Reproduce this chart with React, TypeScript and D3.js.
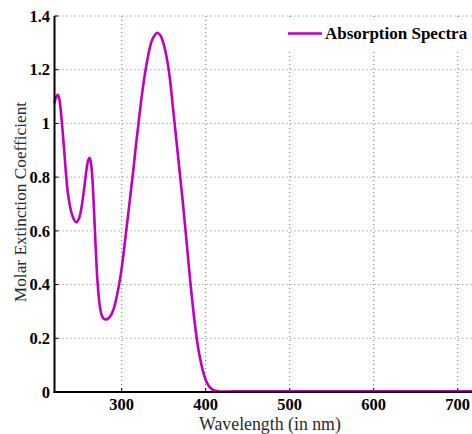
import React from "react";
import * as d3 from "d3";

const wavelengths = [
  220, 222, 224, 226, 228, 230, 232, 234, 236, 238, 240, 243, 246, 249, 252, 255, 258, 260, 261.5, 263,
  265, 267, 269, 271, 273, 275, 277, 279, 282, 286, 290, 293, 296, 299, 302, 305, 308, 311, 314, 317,
  320, 323, 326, 329, 332, 335, 338, 341, 343, 346, 349, 352, 355, 358, 361, 364, 367, 370, 373, 376,
  379, 382, 385, 388, 391, 394, 397, 400, 403, 406, 410, 415, 420, 450, 500, 550, 600, 650, 700, 720,
];
const absorbance = [
  1.075, 1.1, 1.107, 1.085, 1.03, 0.96, 0.88, 0.8, 0.74, 0.7, 0.67, 0.643, 0.632, 0.645, 0.685, 0.75,
  0.825, 0.862, 0.872, 0.86, 0.8, 0.68, 0.54, 0.42, 0.345, 0.3, 0.28, 0.272, 0.27, 0.28, 0.305, 0.34,
  0.385, 0.44, 0.51, 0.59, 0.67, 0.75, 0.83, 0.92, 1.0, 1.08, 1.15, 1.21, 1.26, 1.3, 1.322, 1.335, 1.337,
  1.328, 1.305, 1.27, 1.22, 1.15, 1.06, 0.97, 0.88, 0.79, 0.7, 0.6, 0.5, 0.4, 0.31, 0.23, 0.165, 0.115,
  0.075, 0.045, 0.026, 0.014, 0.006, 0.003, 0.002, 0.003, 0.003, 0.003, 0.003, 0.003, 0.003, 0.003,
];
const xTicks = [300, 400, 500, 600, 700];
const yTicks = [0, 0.2, 0.4, 0.6, 0.8, 1, 1.2, 1.4];
const seriesName = "Absorption Spectra";
const xLabel = "Wavelength (in nm)";
const yLabel = "Molar Extinction Coefficient";

export default function App() {
  const W = 472;
  const H = 434;
  const x = d3.scaleLinear().domain([220, 720]).range([54.5, 474.5]);
  const y = d3.scaleLinear().domain([0, 1.4]).range([392, 16]);
  const data = wavelengths.map((w, i) => [w, absorbance[i]] as [number, number]);
  const line = d3
    .line<[number, number]>()
    .x((d) => x(d[0]))
    .y((d) => y(d[1]))
    .curve(d3.curveCatmullRom.alpha(0.5));
  const serif = "'Liberation Serif', 'Times New Roman', serif";
  const grid = "#777";
  return (
    <svg
      width={W}
      height={H}
      style={{ position: "absolute", left: 0, top: 0, background: "#fff" }}
    >
      <rect x={0} y={0} width={W} height={H} fill="#fff" />
      {/* grid */}
      {yTicks.slice(1).map((t) => (
        <line
          key={"gy" + t}
          x1={x(220)}
          x2={W}
          y1={y(t)}
          y2={y(t)}
          stroke={grid}
          strokeWidth={1}
          strokeDasharray="1,3"
        />
      ))}
      {xTicks.map((t) => (
        <line
          key={"gx" + t}
          x1={x(t)}
          x2={x(t)}
          y1={y(1.4)}
          y2={y(0)}
          stroke={grid}
          strokeWidth={1}
          strokeDasharray="1,3"
        />
      ))}
      {/* ticks */}
      {yTicks.map((t) => (
        <line key={"ty" + t} x1={x(220)} x2={x(220) + 4} y1={y(t)} y2={y(t)} stroke="#000" strokeWidth={1} />
      ))}
      {xTicks.map((t) => (
        <line key={"tx" + t} x1={x(t)} x2={x(t)} y1={y(0)} y2={y(0) - 4} stroke="#000" strokeWidth={1} />
      ))}
      {/* curve */}
      <path d={line(data) || ""} fill="none" stroke="#c000c0" strokeWidth={2.6} strokeLinejoin="round" />
      {/* axes */}
      <line x1={x(220)} x2={x(220)} y1={y(1.4)} y2={y(0) + 1} stroke="#000" strokeWidth={2} />
      <line x1={x(220) - 1} x2={W} y1={y(0)} y2={y(0)} stroke="#000" strokeWidth={2} />
      {/* tick labels */}
      {yTicks.map((t) => (
        <text
          key={"ly" + t}
          x={50}
          y={y(t)}
          dy="0.35em"
          textAnchor="end"
          fontFamily={serif}
          fontWeight="bold"
          fontSize={16.5}
          fill="#000"
        >
          {d3.format("~g")(t)}
        </text>
      ))}
      {xTicks.map((t) => (
        <text
          key={"lx" + t}
          x={x(t)}
          y={409.5}
          textAnchor="middle"
          fontFamily={serif}
          fontWeight="bold"
          fontSize={16.5}
          fill="#000"
        >
          {t}
        </text>
      ))}
      {/* axis labels */}
      <text x={270} y={430} textAnchor="middle" fontFamily={serif} fontSize={17.8} fill="#2a2a2a">
        {xLabel}
      </text>
      <text
        transform={`translate(26,${y(0.7) - 2}) rotate(-90)`}
        textAnchor="middle"
        fontFamily={serif}
        fontSize={17.3}
        fill="#2a2a2a"
      >
        {yLabel}
      </text>
      {/* legend */}
      <rect x={283} y={18} width={W - 283} height={31} fill="#fff" />
      <line x1={288} x2={322} y1={33.5} y2={33.5} stroke="#c000c0" strokeWidth={2.6} />
      <text x={325} y={39} fontFamily={serif} fontWeight="bold" fontSize={17} fill="#000">
        {seriesName}
      </text>
    </svg>
  );
}
